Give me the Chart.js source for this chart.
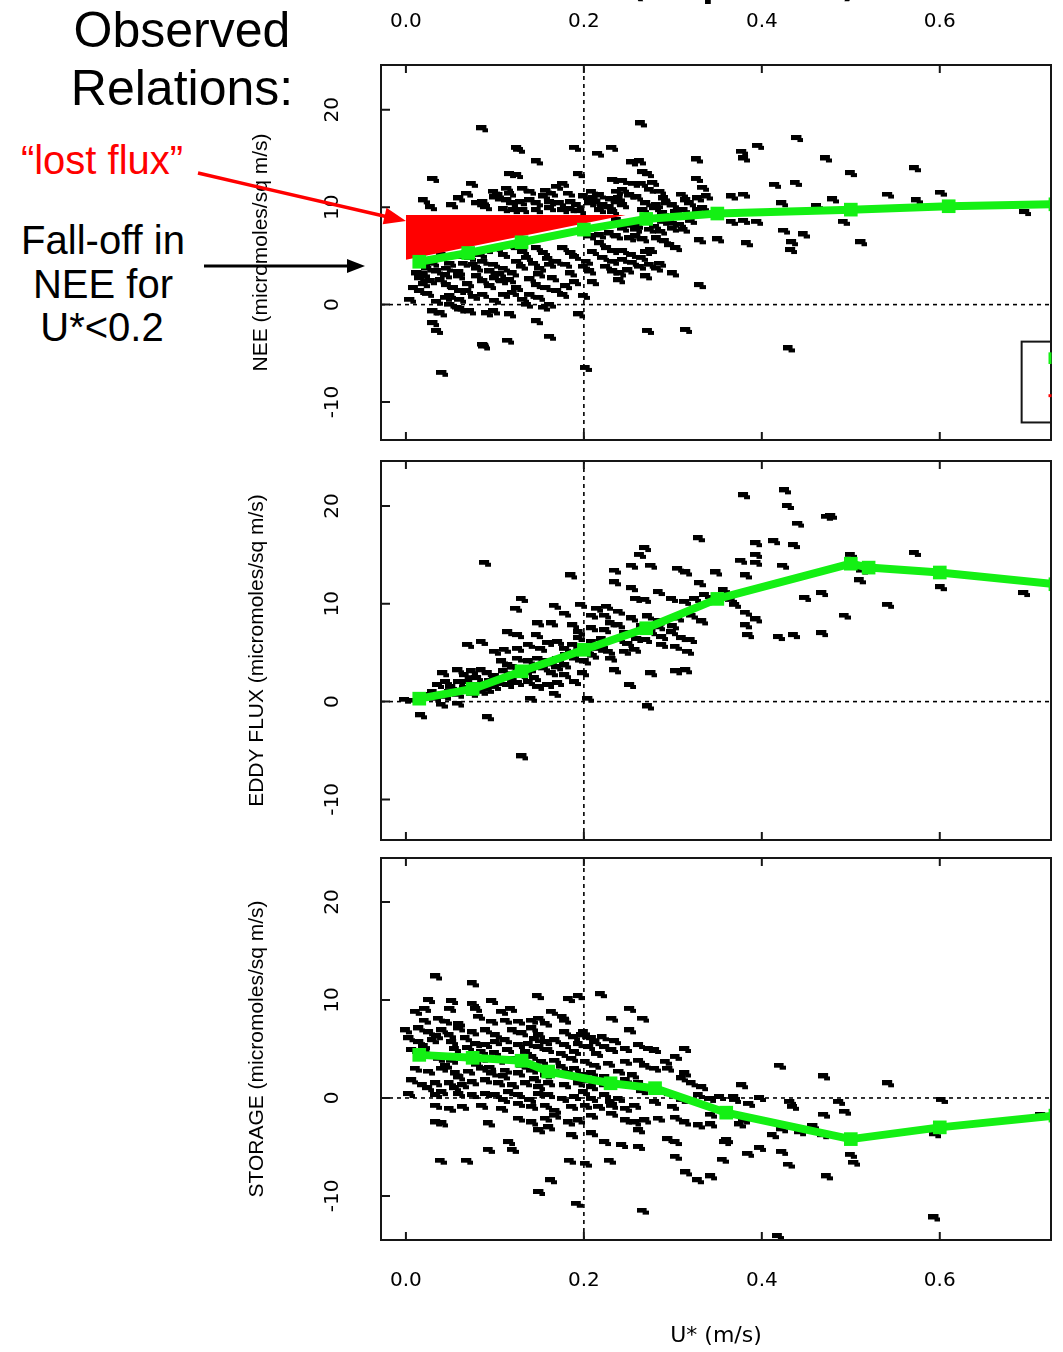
<!DOCTYPE html>
<html>
<head>
<meta charset="utf-8">
<title>Observed relations</title>
<script src="https://cdn.jsdelivr.net/npm/chart.js@4.4.1/dist/chart.umd.min.js"></script>
<style>
  html, body { margin: 0; padding: 0; background: #fff; }
  body { width: 1063px; height: 1352px; position: relative; overflow: hidden; }
  canvas { position: absolute; }
  .note { position: absolute; transform: translate(-50%, -50%); white-space: nowrap;
          font-family: "Liberation Sans", Arial, sans-serif; color: #000; line-height: 1; }
  .big { font-size: 50px; }
  .mid { font-size: 40px; }
  svg { position: absolute; left: 0; top: 0; }
</style>
</head>
<body>
<canvas id="neeChart" width="833" height="486" style="left:230px; top:-34px"></canvas>
<canvas id="eddyChart" width="833" height="407" style="left:230px; top:445px"></canvas>
<canvas id="storageChart" width="833" height="510" style="left:230px; top:842px"></canvas>

<div class="note big" style="left:182px; top:30px">Observed</div>
<div class="note big" style="left:182px; top:88px">Relations:</div>
<div class="note mid" style="left:102px; top:160px; color:#ff0000">“lost flux”</div>
<div class="note mid" style="left:103px; top:240px">Fall-off in</div>
<div class="note mid" style="left:103px; top:284px">NEE for</div>
<div class="note mid" style="left:102px; top:327px">U*&lt;0.2</div>

<svg width="1063" height="1352">
  <line x1="198" y1="173" x2="388" y2="217" stroke="#ff0000" stroke-width="3.5"/>
  <polygon points="406,221 382.7,224.3 386.5,207.7" fill="#ff0000"/>
  <line x1="204" y1="266" x2="350" y2="266" stroke="#000" stroke-width="3"/>
  <polygon points="365,266 347,259 347,273" fill="#000"/>
</svg>

<script>
// axis ticks
const xTicks = [0, 0.2, 0.4, 0.6];
const yTicks = [-10, 0, 10, 20];
const refU = 0.2;
const refFlux = 0;

// NEE panel: [U*, flux]
const neePoints = [
  [0.127,15.8],[0.216,15.4],[0.147,14.6],[0.254,14.5],[0.263,14.6],[0.327,14.8],
  [0.117,13.3],[0.125,13.2],[0.194,13.3],[0.267,13.5],[0.272,13.3],[0.031,12.8],[0.074,12.3],[0.177,12.3],
  [0.17,12.0],[0.233,12.7],[0.244,12.6],[0.256,12.3],[0.265,12.3],[0.278,12.4],[0.327,12.8],
  [0.099,11.5],[0.104,11.1],[0.114,11.8],[0.117,11.3],[0.132,11.8],[0.14,11.5],[0.158,11.6],[0.164,11.3],
  [0.069,11.3],[0.183,11.3],[0.209,11.5],[0.218,11.1],[0.211,10.8],[0.237,11.5],[0.244,11.7],[0.252,11.1],
  [0.239,10.8],[0.274,11.7],[0.286,11.5],[0.334,11.9],[0.338,11.0],
  [0.08,10.3],[0.087,10.4],[0.052,10.1],[0.028,9.9],[0.114,10.6],[0.119,10.3],[0.129,10.4],[0.14,10.6],
  [0.147,10.3],[0.162,10.4],[0.173,10.3],[0.186,10.4],[0.192,10.1],[0.207,10.3],[0.214,10.4],[0.222,10.1],
  [0.229,9.9],[0.237,10.4],[0.244,10.1],[0.27,10.3],[0.282,10.1],[0.293,10.3],[0.3,10.1],[0.315,10.6],
  [0.319,10.3],[0.328,10.8],
  [0.11,9.7],[0.121,9.6],[0.132,9.6],[0.147,9.6],[0.162,9.8],[0.177,9.6],[0.185,9.7],[0.196,9.5],[0.218,9.6],
  [0.233,9.4],[0.267,9.6],[0.28,9.8],[0.289,9.3],[0.304,9.4],[0.312,9.6],[0.328,9.6],[0.334,9.8],
  [0.237,8.6],[0.248,8.2],[0.259,8.4],[0.289,8.4],[0.3,8.2],[0.308,8.1],[0.244,7.7],[0.259,7.6],[0.274,7.6],
  [0.287,7.4],[0.3,7.7],[0.312,7.6],
  [0.2,7.4],[0.207,6.9],[0.218,7.0],[0.229,7.2],[0.237,6.9],[0.252,6.7],[0.259,6.9],[0.267,6.6],[0.282,6.7],
  [0.291,6.4],[0.297,6.0],[0.304,5.7],[0.33,6.5],
  [0.218,6.2],[0.226,5.7],[0.233,5.4],[0.244,5.4],[0.254,5.0],[0.222,4.7],[0.233,4.3],[0.244,4.5],[0.263,3.8],
  [0.274,4.0],[0.286,4.1],[0.282,3.6],[0.233,3.3],[0.241,3.1],[0.207,3.3],[0.3,3.1],[0.33,1.9],[0.185,3.1],
  [0.203,4.3],
  [0.177,5.7],[0.186,5.2],[0.17,4.3],[0.162,4.0],[0.147,5.7],[0.155,5.2],[0.136,4.7],[0.144,4.1],[0.151,3.6],
  [0.125,5.7],[0.132,5.3],[0.125,4.3],[0.117,6.0],[0.102,5.7],[0.11,5.0],[0.091,5.5],[0.084,5.0],[0.087,4.3],
  [0.099,4.0],[0.11,3.6],[0.106,3.0],[0.072,4.7],[0.065,4.1],[0.076,4.0],[0.058,5.0],[0.05,4.1],[0.046,3.6],
  [0.031,4.1],[0.024,3.6],[0.035,3.3],[0.02,3.0],[0.013,3.1],[0.016,2.6],[0.028,2.3],[0.039,2.4],[0.046,1.9],
  [0.054,1.6],[0.061,1.3],[0.069,1.3],[0.076,0.7],[0.009,1.6],[0.016,1.3],[0.08,2.8],[0.087,2.3],[0.095,1.8],
  [0.108,2.3],[0.117,2.4],[0.125,1.6],[0.147,1.9],[0.158,1.6],[0.17,1.3],[0.177,0.9],[0.14,0.9],[0.132,0.4],
  [0.11,0.9],[0.087,0.9],[0.061,0.4],[0.035,0.2],[0.005,0.4],[0.05,-0.1],[0.058,-0.4],[0.162,-0.1],
  [0.136,-0.1],[0.155,-0.4],[0.195,-1.1],[0.031,-0.8],[0.039,-1.0],[0.061,-0.6],[0.072,-0.8],[0.091,-1.0],
  [0.099,-0.8],[0.117,-1.1],[0.031,-2.0],[0.035,-2.8],[0.147,-1.8],[0.115,-3.8],[0.087,-4.2],[0.272,-2.8],
  [0.315,-2.7],[0.162,-3.4],
  [0.086,18.0],[0.264,18.5],[0.44,17.0],[0.396,16.2],[0.378,15.6],[0.38,14.9],[0.125,16.0],[0.19,16.0],
  [0.232,16.0],[0.472,14.9],[0.572,13.9],[0.5,13.4],[0.438,12.4],[0.415,12.2],[0.542,11.2],[0.601,11.4],
  [0.574,10.6],[0.48,10.7],[0.38,11.2],[0.366,11.0],[0.423,10.3],[0.462,10.0],[0.696,9.4],[0.492,8.4],
  [0.366,8.4],[0.38,8.5],[0.395,8.4],[0.425,7.5],[0.447,7.1],[0.512,6.3],[0.351,6.6],[0.383,6.2],
  [0.434,6.3],[0.433,5.5],[0.43,-4.6],[0.202,-6.6],[0.041,-7.1],[0.088,-4.4],
  [0.02,4.2],[0.04,5.0],[0.06,2.8],[0.095,3.3],[0.12,3.1],[0.14,2.5],[0.165,2.6],[0.19,2.2],[0.21,5.3],
  [0.225,3.8],[0.255,4.2],[0.27,5.3],[0.025,1.0],[0.045,0.6],[0.1,0.3],[0.2,0.8],[0.19,4.8],[0.15,3.0],
  [0.06,3.2],[0.08,3.6],[0.1,2.6],[0.13,3.8],[0.16,4.6],[0.18,4.0],[0.2,3.8],[0.21,2.2],[0.24,2.4],
  [0.25,3.4],[0.27,2.8],[0.045,2.9],[0.07,2.0],[0.12,1.1],[0.15,0.6],[0.18,1.8],[0.02,2.0],[0.05,0.8],
  [0.02,10.6],[0.06,10.8],[0.09,9.9],[0.1,10.9],[0.155,11.0],[0.2,11.0],[0.23,10.7],[0.26,10.9],
  [0.29,10.8],[0.31,11.2],[0.26,8.0],[0.28,7.9],[0.32,8.5],[0.295,8.8],[0.275,5.5],[0.265,4.7]
];
const neeFitU = [0.015, 0.07, 0.13, 0.2, 0.27, 0.35, 0.5, 0.61, 0.73];
const neeFit  = [4.4, 5.3, 6.4, 7.7, 8.8, 9.35, 9.75, 10.1, 10.3];
const lostFluxU = [0, 0.247];
const lostFluxTop = [9.2, 9.2];
const lostFluxBottom = [4.6, 9.2];

// EDDY FLUX panel
const eddyPoints = [
  [0.089,14.1],[0.186,12.8],[0.329,16.6],[0.269,15.6],[0.263,14.9],[0.235,13.3],[0.235,12.1],[0.254,13.8],
  [0.276,13.8],[0.306,13.5],[0.315,13.1],[0.349,13.1],[0.33,12.0],[0.254,11.5],[0.284,11.1],[0.259,10.4],
  [0.269,10.3],[0.299,10.4],[0.314,10.1],[0.325,10.4],[0.336,10.8],[0.357,11.3],[0.13,10.4],[0.124,9.4],
  [0.167,9.7],[0.179,8.9],[0.197,9.8],[0.215,9.4],[0.226,9.6],[0.209,8.7],[0.224,8.7],[0.239,9.1],
  [0.254,8.4],[0.272,8.6],[0.284,8.1],[0.306,8.4],[0.321,8.7],[0.333,8.1],[0.149,7.9],[0.164,7.9],
  [0.188,7.7],[0.194,7.0],[0.115,7.0],[0.126,6.7],[0.147,6.7],[0.209,7.4],[0.224,7.2],[0.239,7.7],
  [0.246,6.9],[0.276,7.0],[0.288,6.5],[0.299,7.0],[0.288,5.7],[0.303,5.5],[0.317,5.0],[0.07,5.7],
  [0.085,6.0],[0.1,5.0],[0.111,5.2],[0.126,5.3],[0.138,5.7],[0.152,5.3],[0.16,5.9],[0.171,6.0],
  [0.179,5.3],[0.188,5.7],[0.194,6.4],[0.209,6.0],[0.216,5.3],[0.228,5.0],[0.231,4.3],[0.246,5.0],
  [0.258,5.2],[0.235,3.1],[0.276,2.8],[0.304,3.0],[0.315,3.1],[0.252,1.6],[0.272,-0.6],[0.042,2.8],
  [0.045,1.9],[0.059,3.1],[0.066,2.6],[0.074,3.0],[0.085,3.1],[0.092,2.8],[0.108,4.0],[0.115,3.6],
  [0.126,4.3],[0.138,4.0],[0.149,4.3],[0.16,4.0],[0.171,4.3],[0.179,3.6],[0.19,4.3],[0.201,4.0],
  [0.164,2.8],[0.179,2.6],[0.19,1.9],[0.199,2.8],[0.036,1.6],[0.051,1.4],[0.066,1.3],[0.081,1.6],
  [0.092,1.1],[0.104,1.9],[0.115,1.6],[0.126,1.8],[0.138,1.9],[0.149,1.4],[0.16,1.6],[0.171,1.8],
  [0.167,0.7],[0.021,0.6],[0.033,0.2],[0.044,0.4],[0.059,0.6],[0.074,0.7],[0.085,0.9],[-0.001,0.1],
  [0.01,0.0],[0.04,-0.4],[0.059,-0.3],[0.017,-1.5],[0.092,-1.7],[0.205,0.2],[0.141,0.2],
  [0.205,5.0],[0.22,6.3],[0.24,6.2],[0.185,4.9],[0.17,3.4],[0.13,2.6],[0.14,3.2],[0.095,2.0],[0.12,2.1],
  [0.265,7.6],[0.23,7.9],[0.26,6.3],
  [0.03,0.9],[0.05,0.9],[0.07,1.9],[0.08,2.3],[0.1,2.5],[0.11,3.0],[0.12,3.4],[0.135,3.0],[0.145,2.3],
  [0.155,3.3],[0.165,3.7],[0.18,4.7],[0.195,5.0],[0.21,4.6],[0.22,5.6],[0.25,5.8],[0.27,6.2],[0.285,7.5],
  [0.3,7.6],[0.31,6.4],[0.32,6.2],[0.06,1.9],[0.1,1.4],
  [0.131,-5.7],[0.38,21.0],[0.426,21.5],[0.429,19.9],[0.441,18.1],[0.473,18.8],[0.478,18.9],[0.394,16.1],
  [0.414,16.3],[0.436,15.9],[0.377,14.3],[0.394,14.9],[0.394,14.1],[0.424,13.8],[0.382,12.8],[0.5,14.9],
  [0.513,13.3],[0.51,12.3],[0.572,15.1],[0.601,11.6],[0.695,11.0],[0.542,9.8],[0.449,10.5],[0.468,11.0],
  [0.493,8.7],[0.382,9.0],[0.394,8.3],[0.382,7.7],[0.385,6.7],[0.419,6.5],[0.436,6.7],[0.468,6.9],
  [0.365,10.3],[0.37,9.8]
];
const eddyFitU = [0.015, 0.075, 0.13, 0.2, 0.27, 0.35, 0.5, 0.52, 0.6, 0.73];
const eddyFit  = [0.3, 1.3, 3.1, 5.3, 7.5, 10.5, 14.1, 13.7, 13.2, 12.0];

// STORAGE panel
const storagePoints = [
  [0.034,12.3],[0.075,11.6],[0.148,10.3],[0.183,10.0],[0.194,10.3],[0.219,10.5],[0.026,9.9],[0.052,9.8],
  [0.075,9.5],[0.097,9.8],[0.011,8.7],[0.022,9.0],[0.05,9.0],[0.079,9.0],[0.108,8.7],[0.118,9.0],
  [0.164,8.7],[0.176,8.2],[0.179,7.8],[0.252,9.0],[0.267,8.0],[0.232,8.0],[0.021,7.8],[0.037,8.0],
  [0.045,7.7],[0.06,7.5],[0.082,8.2],[0.097,7.7],[0.112,7.8],[0.127,7.7],[0.142,7.8],[0.15,8.0],
  [0.157,7.5],[0.0,6.8],[0.015,7.0],[0.026,6.6],[0.041,6.8],[0.049,6.3],[0.06,7.0],[0.075,6.6],
  [0.09,6.8],[0.101,6.3],[0.12,6.8],[0.131,6.5],[0.142,7.0],[0.15,6.3],[0.179,6.6],[0.189,6.1],
  [0.198,6.3],[0.209,6.0],[0.221,6.1],[0.252,6.8],[0.004,6.0],[0.015,5.6],[0.03,5.8],[0.052,5.6],
  [0.067,6.0],[0.079,5.4],[0.09,5.3],[0.101,5.6],[0.112,5.8],[0.127,5.3],[0.138,5.4],[0.15,5.1],
  [0.157,5.6],[0.168,5.8],[0.179,5.3],[0.194,5.4],[0.206,5.1],[0.213,5.6],[0.224,5.1],[0.232,4.8],
  [0.247,4.9],[0.262,5.3],[0.273,4.9],[0.28,4.8],[0.314,4.9],[0.303,4.1],[0.007,4.8],[0.022,4.6],
  [0.037,3.9],[0.052,3.7],[0.067,4.1],[0.086,3.9],[0.105,3.7],[0.123,3.9],[0.142,4.1],[0.153,3.6],
  [0.168,3.7],[0.187,3.9],[0.202,3.6],[0.213,3.2],[0.228,3.4],[0.247,3.6],[0.262,3.7],[0.269,3.2],
  [0.28,2.9],[0.292,3.6],[0.295,2.9],[0.314,2.4],[0.011,2.9],[0.026,2.6],[0.041,2.9],[0.056,2.4],
  [0.071,2.6],[0.086,2.9],[0.097,2.4],[0.112,2.7],[0.127,2.4],[0.142,2.7],[0.157,2.2],[0.168,2.6],
  [0.183,2.4],[0.198,2.2],[0.209,2.4],[0.224,2.0],[0.007,1.7],[0.019,1.2],[0.034,1.4],[0.049,1.4],
  [0.064,1.2],[0.075,1.5],[0.09,1.7],[0.105,1.4],[0.12,1.2],[0.135,1.4],[0.15,1.0],[0.161,1.4],
  [0.179,1.2],[0.194,1.4],[0.209,1.0],[0.224,1.2],[0.247,1.7],[0.262,1.4],[0.31,1.9],[0.321,1.4],
  [0.333,1.0],[0.004,0.3],[0.034,0.2],[0.041,0.5],[0.06,0.3],[0.075,0.2],[0.09,0.3],[0.101,0.2],
  [0.116,0.5],[0.127,0.2],[0.15,0.3],[0.161,0.2],[0.176,-0.2],[0.19,0.0],[0.209,-0.2],[0.224,0.2],
  [0.239,-0.2],[0.329,0.2],[0.342,-0.2],[0.353,0.0],[0.034,-0.9],[0.049,-1.2],[0.064,-1.0],[0.086,-0.9],
  [0.108,-1.2],[0.127,-0.7],[0.142,-1.0],[0.157,-0.9],[0.168,-1.4],[0.187,-1.0],[0.202,-0.9],[0.217,-1.0],
  [0.232,-0.9],[0.247,-1.2],[0.258,-0.9],[0.034,-2.6],[0.041,-2.7],[0.093,-2.7],[0.127,-2.2],[0.142,-2.6],
  [0.157,-2.2],[0.168,-1.9],[0.183,-2.6],[0.194,-2.4],[0.209,-1.9],[0.232,-1.7],[0.247,-2.4],[0.258,-2.6],
  [0.269,-2.4],[0.284,-2.2],[0.303,-2.1],[0.314,-2.6],[0.329,-2.9],[0.15,-3.4],[0.161,-3.1],[0.187,-3.9],
  [0.209,-3.7],[0.262,-3.4],[0.295,-4.3],[0.303,-4.6],[0.359,-4.6],[0.093,-5.4],[0.116,-4.6],[0.12,-5.4],
  [0.224,-4.6],[0.243,-4.9],[0.262,-5.1],[0.303,-6.1],
  [0.02,5.2],[0.035,6.2],[0.055,4.9],[0.07,5.0],[0.085,4.6],[0.1,4.5],[0.115,4.8],[0.135,4.6],[0.145,5.9],
  [0.16,4.8],[0.175,4.4],[0.19,4.6],[0.2,6.6],[0.215,4.4],[0.235,5.7],[0.045,3.2],[0.06,2.0],[0.08,3.3],
  [0.095,3.0],[0.11,2.1],[0.13,3.2],[0.145,1.8],[0.175,3.1],[0.19,2.9],[0.205,1.6],[0.24,2.6],[0.255,2.2],
  [0.025,0.9],[0.055,0.9],[0.11,-0.3],[0.14,-0.3],[0.2,0.5],[0.23,-0.5],[0.265,0.6],[0.28,-0.5],
  [0.3,-1.0],[0.29,0.5],[0.31,-0.3],
  [0.039,-6.5],[0.069,-6.5],[0.163,-8.5],[0.15,-9.7],[0.192,-10.9],[0.184,-6.5],[0.202,-6.8],[0.229,-6.5],
  [0.266,-11.6],[0.315,-7.7],[0.328,-8.5],
  [0.42,3.2],[0.47,2.1],[0.542,1.4],[0.602,-0.3],[0.378,1.2],[0.369,0.0],[0.37,-0.3],[0.398,-0.1],
  [0.386,-0.7],[0.432,-0.5],[0.435,-1.0],[0.487,-0.5],[0.494,-1.5],[0.47,-1.8],[0.343,-1.8],[0.343,-2.8],
  [0.375,-2.8],[0.38,-2.4],[0.423,-3.3],[0.443,-3.6],[0.458,-3.0],[0.469,-3.9],[0.412,-3.9],[0.361,-4.4],
  [0.398,-5.2],[0.385,-5.8],[0.423,-5.6],[0.43,-6.9],[0.5,-5.9],[0.504,-6.7],[0.595,-3.8],[0.356,-6.4],
  [0.473,-8.1],[0.343,-8.1],[0.594,-12.3],[0.714,-1.8],[0.418,-14.2]
];
const storageFitU = [0.015, 0.075, 0.13, 0.16, 0.23, 0.28, 0.36, 0.5, 0.6, 0.73];
const storageFit  = [4.4, 4.1, 3.8, 2.7, 1.5, 1.0, -1.5, -4.2, -3.0, -1.8];

const uMin = -0.028, uMax = 0.725;
const green = '#14f014';

Chart.defaults.font.family = '"DejaVu Sans", sans-serif';
Chart.defaults.color = '#000';

// small "dash" symbol like the original plot marks
function makeMark() {
  const c = document.createElement('canvas');
  c.width = 12; c.height = 8;
  const g = c.getContext('2d');
  g.fillStyle = '#000';
  g.fillRect(0, 0, 10, 5);
  g.fillRect(6, 3, 6, 4);
  return c;
}
const mark = makeMark();

const framePlugin = {
  id: 'frame',
  afterDraw(chart, args, opts) {
    const { ctx, chartArea: a } = chart;
    const xs = chart.scales.x, ys = chart.scales.y;
    ctx.save();
    ctx.strokeStyle = '#161616';
    ctx.lineWidth = 2;
    ctx.strokeRect(a.left, a.top, a.width, a.height);
    ctx.beginPath();
    xTicks.forEach(v => {
      const px = xs.getPixelForValue(v);
      ctx.moveTo(px, a.top); ctx.lineTo(px, a.top + 8);
      ctx.moveTo(px, a.bottom); ctx.lineTo(px, a.bottom - 8);
    });
    yTicks.forEach(v => {
      const py = ys.getPixelForValue(v);
      ctx.moveTo(a.left, py); ctx.lineTo(a.left + 9, py);
    });
    ctx.stroke();
    if (opts.stub) {
      // clipped legend box in the corner of the NEE panel
      const l = xs.getPixelForValue(0.692);
      const t = ys.getPixelForValue(-3.8);
      const b = ys.getPixelForValue(-12.1);
      ctx.strokeRect(l, t, a.right - l, b - t);
      ctx.strokeStyle = green; ctx.lineWidth = 3;
      ctx.beginPath();
      ctx.moveTo(a.right - 1, ys.getPixelForValue(-4.9));
      ctx.lineTo(a.right - 1, ys.getPixelForValue(-6.1));
      ctx.stroke();
      ctx.strokeStyle = '#ff0000';
      ctx.beginPath();
      ctx.moveTo(a.right - 1, ys.getPixelForValue(-9.2));
      ctx.lineTo(a.right - 1, ys.getPixelForValue(-9.5));
      ctx.stroke();
    }
    ctx.restore();
  }
};

function toXY(us, vs) {
  return us.map((u, i) => ({ x: u, y: vs[i] }));
}

function noPad(s) {
  s.paddingTop = 0; s.paddingBottom = 0; s.paddingLeft = 0; s.paddingRight = 0;
}

function makePanel(cfg) {
  const datasets = [
    {
      type: 'line', data: [{ x: uMin, y: refFlux }, { x: uMax, y: refFlux }],
      borderColor: '#000', borderWidth: 1.6, borderDash: [4, 4], pointRadius: 0, order: 6, clip: 0
    },
    {
      type: 'line', data: [{ x: refU, y: cfg.yMin }, { x: refU, y: cfg.yMax }],
      borderColor: '#000', borderWidth: 1.6, borderDash: [4, 4], pointRadius: 0, order: 6, clip: 0
    },
    {
      type: 'scatter', data: cfg.points.map(p => ({ x: p[0], y: p[1] })),
      pointStyle: mark, pointRadius: 4, order: 5, clip: 0
    }
  ];
  if (cfg.lost) {
    datasets.push({
      type: 'line', data: toXY(lostFluxU, lostFluxTop),
      borderWidth: 0, borderColor: 'rgba(0,0,0,0)', pointRadius: 0, fill: false, order: 3, clip: 0
    });
    datasets.push({
      type: 'line', data: toXY(lostFluxU, lostFluxBottom),
      borderWidth: 0, borderColor: 'rgba(0,0,0,0)', pointRadius: 0,
      fill: '-1', backgroundColor: '#ff0000', order: 3, clip: 0
    });
  }
  datasets.push({
    type: 'line', data: toXY(cfg.fitU, cfg.fit),
    borderColor: green, borderWidth: 8, borderJoinStyle: 'round',
    pointStyle: 'rect', pointRadius: 4, pointBackgroundColor: green, pointBorderColor: green,
    order: 1, clip: 0
  });

  const xShown = !!cfg.xPos;
  new Chart(document.getElementById(cfg.id), {
    type: 'scatter',
    data: { datasets },
    options: {
      responsive: false,
      animation: false,
      events: [],
      layout: { padding: { left: 0, right: 11, top: cfg.padTop, bottom: cfg.padBottom } },
      plugins: {
        legend: { display: false },
        tooltip: { enabled: false },
        frame: { stub: !!cfg.stub }
      },
      scales: {
        x: {
          type: 'linear', position: cfg.xPos || 'bottom', display: xShown,
          min: uMin, max: uMax,
          afterBuildTicks: s => { s.ticks = xTicks.map(v => ({ value: v })); },
          afterFit: s => { if (xShown) s.height = cfg.xHeight; noPad(s); },
          grid: { display: false, drawTicks: false },
          border: { display: false },
          ticks: {
            padding: cfg.xPad, autoSkip: false, minRotation: 0, maxRotation: 0,
            font: { size: 20 }, color: '#000',
            callback: v => v.toFixed(1)
          },
          title: {
            display: !!cfg.xTitle, text: cfg.xTitle, color: '#000',
            font: cfg.xTitleFont, padding: cfg.xTitlePad
          }
        },
        y: {
          type: 'linear', position: 'left', min: cfg.yMin, max: cfg.yMax,
          afterBuildTicks: s => { s.ticks = yTicks.map(v => ({ value: v })); },
          afterFit: s => { s.width = 151; noPad(s); },
          grid: { display: false, drawTicks: false },
          border: { display: false },
          ticks: {
            padding: 32, crossAlign: 'center', autoSkip: false,
            minRotation: 90, maxRotation: 90,
            font: { size: 20 }, color: '#000',
            callback: v => String(v)
          },
          title: {
            display: true, text: cfg.yTitle, color: '#000',
            font: { family: '"Liberation Sans", Arial, sans-serif', size: 21 },
            padding: { top: cfg.yTitlePad, bottom: 0 }
          }
        }
      }
    },
    plugins: [framePlugin]
  });
}

makePanel({
  id: 'neeChart', points: neePoints, fitU: neeFitU, fit: neeFit, lost: true, stub: true,
  yMin: -13.9, yMax: 24.6, yTitle: 'NEE (micromoles/sq m/s)', yTitlePad: 19,
  xPos: 'top', xHeight: 99, xPad: 31,
  xTitle: 'U* (all periods)', xTitleFont: { size: 33, weight: 'bold' }, xTitlePad: { top: 3, bottom: 0 },
  padTop: 0, padBottom: 11
});

makePanel({
  id: 'eddyChart', points: eddyPoints, fitU: eddyFitU, fit: eddyFit,
  yMin: -14.15, yMax: 24.6, yTitle: 'EDDY FLUX (micromoles/sq m/s)', yTitlePad: 15,
  xPos: null, padTop: 16, padBottom: 11
});

makePanel({
  id: 'storageChart', points: storagePoints, fitU: storageFitU, fit: storageFit,
  yMin: -14.5, yMax: 24.5, yTitle: 'STORAGE (micromoles/sq m/s)', yTitlePad: 15,
  xPos: 'bottom', xHeight: 112, xPad: 29,
  xTitle: 'U* (m/s)', xTitleFont: { size: 22 }, xTitlePad: { top: 0, bottom: 3 },
  padTop: 16, padBottom: 0
});
</script>
</body>
</html>
